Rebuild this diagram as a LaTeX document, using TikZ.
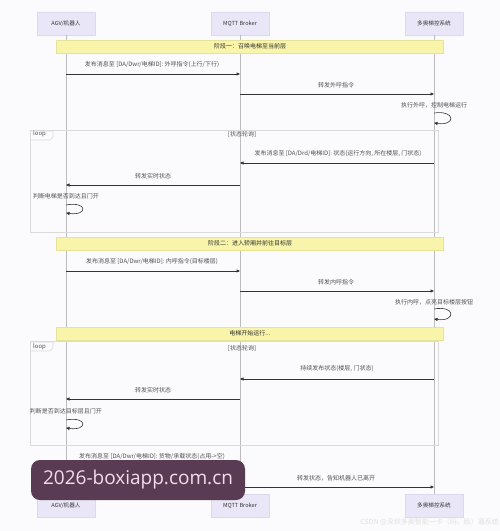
\documentclass[tikz,border=0pt]{standalone}
\usepackage{fontspec}
\setmainfont{Noto Sans CJK SC}
\newfontfamily\wmfont{Open Sans}
\usetikzlibrary{arrows.meta}
\definecolor{bgcol}{HTML}{FBFBFD}
\definecolor{actorfill}{HTML}{E9E7F7}
\definecolor{actorborder}{HTML}{DCD8EE}
\definecolor{notefill}{HTML}{F8F4A9}
\definecolor{noteborder}{HTML}{E6E29A}
\definecolor{loopborder}{HTML}{DADADA}
\definecolor{lifecol}{HTML}{BDBDBD}
\definecolor{msgcol}{HTML}{333333}
\definecolor{wmfill}{HTML}{5A3B54}
\definecolor{wmtext}{HTML}{F3DDEB}
\begin{document}
\begin{tikzpicture}[x=1pt,y=-1pt,
  actor/.style={draw=actorborder,fill=actorfill,minimum width=58pt,minimum height=23pt,inner sep=0pt,font=\fontsize{5.6}{6}\selectfont,text=msgcol},
  notebox/.style={draw=noteborder,fill=notefill,line width=0.4pt},
  notetext/.style={font=\fontsize{6}{6.5}\selectfont,text=msgcol,inner sep=0pt},
  lbl/.style={font=\fontsize{6}{6.5}\selectfont,text=msgcol!85,inner sep=0pt},
  lifeline/.style={draw=lifecol,line width=0.5pt},
  msg/.style={draw=msgcol,line width=0.6pt,-{Triangle[length=3.5pt,width=3pt]}},
  loopbox/.style={draw=loopborder,line width=0.6pt},
]
\useasboundingbox (0,0) rectangle (500,531);
\fill[bgcol] (0,0) rectangle (500,531);

% participants
\node[actor] (at) at (66,23.5) {AGV/机器人};
\node[actor] (bt) at (240,23.5) {MQTT Broker};
\node[actor] (ct) at (434,23.5) {多奥梯控系统};
\node[actor] (ab) at (66,505.5) {AGV/机器人};
\node[actor] (bb) at (240,505.5) {MQTT Broker};
\node[actor] (cb) at (434,505.5) {多奥梯控系统};
\draw[lifeline] (at.south) -- (ab.north);
\draw[lifeline] (bt.south) -- (bb.north);
\draw[lifeline] (ct.south) -- (cb.north);

% loop boxes
\draw[loopbox] (30,130) rectangle (438,232);
\node[lbl,anchor=north west] (l1) at (33,131) {loop};
\draw[loopbox] (30,131) -- (53,131) -- (53,137) -- (50,140) -- (30,140);
\node[lbl] (l1c) at (242,134) {[状态轮询]};
\draw[loopbox] (30,341) rectangle (438,445);
\node[lbl,anchor=north west] (l2) at (33,344) {loop};
\draw[loopbox] (30,342) -- (53,342) -- (53,348) -- (50,351) -- (30,351);
\node[lbl] (l2c) at (242,348) {[状态轮询]};

% notes
\draw[notebox] (56,40) rectangle (443,53);
\node[notetext] (n1) at (250,46.5) {阶段一：召唤电梯至当前层};
\draw[notebox] (56,237) rectangle (443,250);
\node[notetext] (n2) at (250,243.5) {阶段二：进入轿厢并前往目标层};
\draw[notebox] (56,327) rectangle (443,340);
\node[notetext] (n3) at (250,333.5) {电梯开始运行...};

% lifeline coordinates
\foreach \y in {74,94,113,123,163,185,205,213,271,291,309,319,379,399,420,428,467,487}{
  \coordinate (A\y) at (66,\y);
  \coordinate (B\y) at (240,\y);
  \coordinate (C\y) at (434,\y);
}

% messages
\node[lbl] (t1) at (152,65) {发布消息至 [DA/Dwr/电梯ID]: 外呼指令(上行/下行)};
\draw[msg] (A74) -- (B74);
\node[lbl] (t2) at (336,85) {转发外呼指令};
\draw[msg] (B94) -- (C94);
\node[lbl] (t3) at (434,105) {执行外呼，控制电梯运行};
\draw[msg] (C113) .. controls (456,110) and (456,126) .. (C123);

\node[lbl] (t4) at (338,154) {发布消息至 [DA/Drd/电梯ID]: 状态(运行方向, 所在楼层, 门状态)};
\draw[msg] (C163) -- (B163);
\node[lbl] (t5) at (153,176) {转发实时状态};
\draw[msg] (B185) -- (A185);
\node[lbl] (t6) at (66,196) {判断电梯是否到达且门开};
\draw[msg] (A205) .. controls (88,201) and (88,216) .. (A213);

\node[lbl] (t7) at (152,262) {发布消息至 [DA/Dwr/电梯ID]: 内呼指令(目标楼层)};
\draw[msg] (A271) -- (B271);
\node[lbl] (t8) at (336,282) {转发内呼指令};
\draw[msg] (B291) -- (C291);
\node[lbl] (t9) at (434,302) {执行内呼，点亮目标楼层按钮};
\draw[msg] (C309) .. controls (456,305) and (456,322) .. (C319);

\node[lbl] (t10) at (337,369) {持续发布状态(楼层, 门状态)};
\draw[msg] (C379) -- (B379);
\node[lbl] (t11) at (153,390) {转发实时状态};
\draw[msg] (B399) -- (A399);
\node[lbl] (t12) at (66,411) {判断是否到达目标层且门开};
\draw[msg] (A420) .. controls (88,416) and (88,431) .. (A428);

\node[lbl] (t13) at (152,457) {发布消息至 [DA/Dwr/电梯ID]: 货物/承载状态(占用->空)};
\draw[msg] (A467) -- (B467);
\node[lbl] (t14) at (336,478) {转发状态，告知机器人已离开};
\draw[msg] (B487) -- (C487);

% watermarks
\node[fill=wmfill,rounded corners=9pt,minimum width=214pt,minimum height=40pt,inner sep=0pt,text=wmtext,font=\wmfont\fontsize{19}{20}\selectfont] (wm) at (138,480) {2026-boxiapp.com.cn};
\node[font=\fontsize{7}{8}\selectfont,text=black!12,anchor=east,inner sep=0pt] (csdn) at (499,522) {CSDN @深圳多奥智能一卡（码、脸）通系统};
\end{tikzpicture}
\end{document}
